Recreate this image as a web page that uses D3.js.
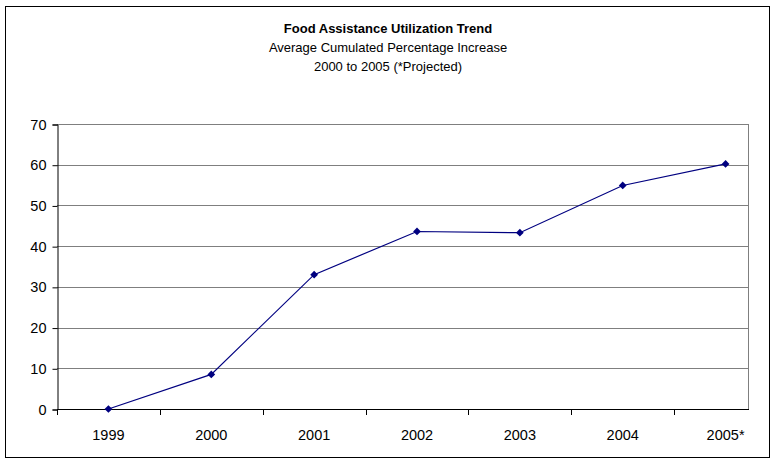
<!DOCTYPE html>
<html><head><meta charset="utf-8">
<script src="https://cdn.jsdelivr.net/npm/d3@7"></script>
<style>body{margin:0;background:#fff}svg{display:block}text{font-family:"Liberation Sans",Arial,sans-serif}</style>
</head><body>
<svg id="c" width="777" height="462"></svg>
<script>
const categories = ["1999","2000","2001","2002","2003","2004","2005*"];
const values = [0, 8.5, 33, 43.6, 43.3, 54.9, 60.2];
const yTicks = [0,10,20,30,40,50,60,70];
const titleLines = ["Food Assistance Utilization Trend","Average Cumulated Percentage Increase","2000 to 2005 (*Projected)"];

const svg = d3.select("#c");
const W = 777, H = 462;
const plotLeft = 57, plotRight = 748, plotTop = 124, plotBottom = 409;

svg.append("rect").attr("x",5.5).attr("y",6.5).attr("width",764).attr("height",451)
  .attr("fill","#fff").attr("stroke","#000").attr("stroke-width",1);

const x = d3.scaleBand().domain(categories).range([plotLeft, 777]);
const y = d3.scaleLinear().domain([0,70]).range([plotBottom, plotTop]);

// gridlines
svg.append("g").selectAll("line").data(yTicks.filter(d=>d>0)).join("line")
  .attr("x1",plotLeft).attr("x2",plotRight)
  .attr("y1",d=>Math.round(y(d))+0.5).attr("y2",d=>Math.round(y(d))+0.5)
  .attr("stroke","#7f7f7f").attr("stroke-width",1);
// right border
svg.append("line").attr("x1",plotRight+0.5).attr("x2",plotRight+0.5)
  .attr("y1",y(70)).attr("y2",y(0)).attr("stroke","#7f7f7f");

// y axis
const ya = svg.append("g").attr("transform",`translate(${plotLeft+0.5},0.5)`)
  .call(d3.axisLeft(y).tickValues(yTicks).tickSize(5).tickPadding(6));
ya.select(".domain").attr("stroke","#000");
ya.selectAll("line").attr("stroke","#000");
ya.selectAll("text").attr("font-size",14.5).attr("fill","#000").style("font-family","Liberation Sans, Arial, sans-serif");

// x axis
const xa = svg.append("g").attr("transform",`translate(0,${Math.round(y(0))+0.5})`)
  .call(d3.axisBottom(x).tickSize(0).tickPadding(20));
xa.select(".domain").attr("d",`M${plotLeft},0H${plotRight+1}`).attr("stroke","#000");
xa.selectAll("text").attr("font-size",14.5).attr("fill","#000").style("font-family","Liberation Sans, Arial, sans-serif");
// tick marks between categories
const bounds = categories.map(c=>x(c)).filter(v=>v<=plotRight);
svg.append("g").selectAll("line").data(bounds).join("line")
  .attr("x1",d=>Math.round(d)+0.5).attr("x2",d=>Math.round(d)+0.5)
  .attr("y1",Math.round(y(0))).attr("y2",Math.round(y(0))+6).attr("stroke","#000");

// line
const cx = c => x(c)+x.bandwidth()/2;
svg.append("path").datum(values)
  .attr("d", d3.line().x((d,i)=>cx(categories[i])).y(d=>y(d)))
  .attr("fill","none").attr("stroke","#000080").attr("stroke-width",1.2);
svg.append("g").selectAll("path").data(values).join("path")
  .attr("d", d3.symbol().type(d3.symbolSquare).size(30))
  .attr("transform",(d,i)=>`translate(${cx(categories[i])},${y(d)}) rotate(45)`)
  .attr("fill","#000080");

// titles
const t = svg.append("g");
t.append("text").attr("x",388).attr("y",33).attr("text-anchor","middle").attr("font-size",13).attr("font-weight","bold").text(titleLines[0]);
t.append("text").attr("x",388).attr("y",52).attr("text-anchor","middle").attr("font-size",13).text(titleLines[1]);
t.append("text").attr("x",388).attr("y",71).attr("text-anchor","middle").attr("font-size",13).text(titleLines[2]);
</script>
</body></html>
